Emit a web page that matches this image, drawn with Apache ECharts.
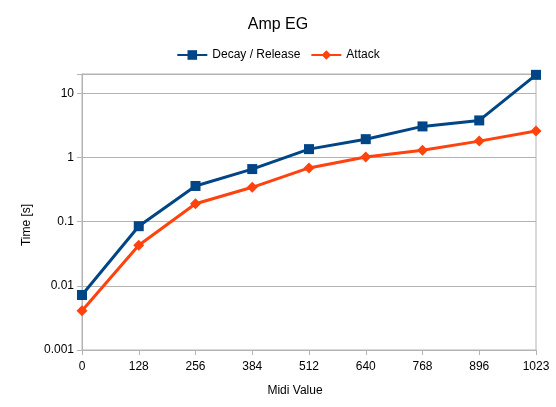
<!DOCTYPE html>
<html>
<head>
<meta charset="utf-8">
<script src="https://cdn.jsdelivr.net/npm/echarts@6/dist/echarts.min.js"></script>
<style>html,body{margin:0;padding:0;background:#fff;}#c{width:556px;height:407px;}</style>
</head>
<body>
<div id="c"></div>
<script>
var categories = ['0', '128', '256', '384', '512', '640', '768', '896', '1023'];
var decayRelease = [0.0072, 0.085, 0.36, 0.66, 1.35, 1.93, 3.05, 3.78, 19.4];
var attack = [0.0041, 0.043, 0.19, 0.343, 0.687, 1.02, 1.3, 1.8, 2.58];
var yTickLabels = ['0.001', '0.01', '0.1', '1', '10'];

var chart = echarts.init(document.getElementById('c'));
var font = 'Liberation Sans';
chart.setOption({
  animation: false,
  backgroundColor: '#fff',
  textStyle: { fontFamily: font },
  title: {
    text: 'Amp EG', left: 'center', top: 12,
    textStyle: { fontFamily: font, fontSize: 16, fontWeight: 'normal', color: '#000' }
  },
  legend: {
    top: 44, left: 'center', itemWidth: 30, itemHeight: 12, itemGap: 10,
    textStyle: { fontFamily: font, fontSize: 12, color: '#000' },
    data: ['Decay / Release', 'Attack']
  },
  grid: {
    left: 82, right: 20, top: 74, bottom: 57, show: true,
    borderColor: '#b3b3b3', borderWidth: 1
  },
  xAxis: {
    type: 'category', data: categories, boundaryGap: false,
    name: 'Midi Value', nameLocation: 'middle', nameGap: 35,
    nameTextStyle: { fontFamily: font, fontSize: 12, color: '#000', padding: [0, 28, 0, 0] },
    axisLine: { lineStyle: { color: '#b3b3b3' } },
    axisTick: { show: true, alignWithLabel: true, length: 5, lineStyle: { color: '#b3b3b3' } },
    axisLabel: { fontFamily: font, fontSize: 12, color: '#000', margin: 11 },
    splitLine: { show: false }
  },
  yAxis: {
    type: 'log', logBase: 10, min: 0.001, max: 20,
    name: 'Time [s]', nameLocation: 'middle', nameGap: 42, nameRotate: 90,
    nameTextStyle: { fontFamily: font, fontSize: 12, color: '#000', padding: [0, 26, 0, 0] },
    axisLine: { show: true, lineStyle: { color: '#b3b3b3' } },
    axisTick: { show: true, length: 5, lineStyle: { color: '#b3b3b3' } },
    axisLabel: {
      fontFamily: font, fontSize: 12, color: '#000', margin: 8,
      formatter: function (v) {
        var e = Math.round(Math.log10(v));
        if (Math.abs(Math.log10(v) - e) > 1e-6) return '';
        var idx = e + 3;
        return yTickLabels[idx] !== undefined ? yTickLabels[idx] : '';
      }
    },
    splitLine: { show: true, lineStyle: { color: '#b3b3b3' } }
  },
  series: [
    {
      name: 'Decay / Release', type: 'line', data: decayRelease,
      symbol: 'rect', symbolSize: 10,
      lineStyle: { color: '#004586', width: 3 },
      itemStyle: { color: '#004586' }
    },
    {
      name: 'Attack', type: 'line', data: attack,
      symbol: 'diamond', symbolSize: 11,
      lineStyle: { color: '#ff420e', width: 3 },
      itemStyle: { color: '#ff420e' }
    }
  ]
});
</script>
</body>
</html>
